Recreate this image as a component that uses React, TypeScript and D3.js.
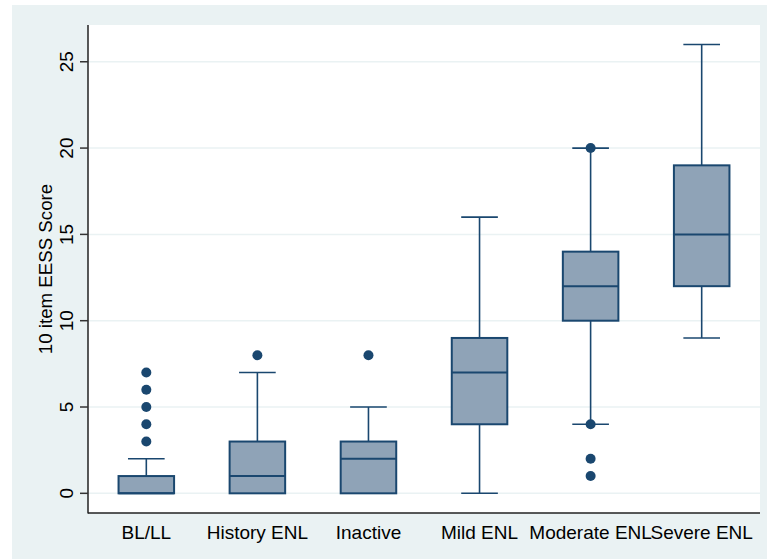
import React, { useEffect, useRef } from "react";
import * as d3 from "d3";

// group labels
const groups = ["BL/LL", "History ENL", "Inactive", "Mild ENL", "Moderate ENL", "Severe ENL"];
// box stats
const lowerWhisker = [0, 0, 0, 0, 4, 9];
const q1 = [0, 0, 0, 4, 10, 12];
const median = [0, 1, 2, 7, 12, 15];
const q3 = [1, 3, 3, 9, 14, 19];
const upperWhisker = [2, 7, 5, 16, 20, 26];
const outliers = [[3, 4, 5, 6, 7], [8], [8], [], [20, 4, 2, 1], []];
const yTicks = [0, 5, 10, 15, 20, 25];

export default function App() {
  const svgRef = useRef<SVGSVGElement>(null);

  useEffect(() => {
    const width = 767;
    const height = 559;
    const plot = { left: 88, right: 760, top: 25, bottom: 513 };
    const navy = "#1a476f";
    const font = "'Liberation Sans', Arial, sans-serif";

    const svg = d3.select(svgRef.current);
    svg.selectAll("*").remove();
    svg.attr("width", width).attr("height", height);

    svg.append("rect").attr("x", 12).attr("y", 5).attr("width", width - 12).attr("height", height - 5).attr("fill", "#eaf2f3");
    svg
      .append("rect")
      .attr("x", plot.left)
      .attr("y", plot.top)
      .attr("width", plot.right - plot.left)
      .attr("height", plot.bottom - plot.top)
      .attr("fill", "white");

    const y = d3.scaleLinear().domain([-1.14, 27.13]).range([plot.bottom, plot.top]);
    const x = d3
      .scaleBand()
      .domain(groups)
      .range([plot.left, plot.right])
      .paddingInner(0.5)
      .paddingOuter(0.275);

    // grid
    svg
      .append("g")
      .selectAll("line")
      .data(yTicks)
      .join("line")
      .attr("x1", plot.left)
      .attr("x2", plot.right)
      .attr("y1", (d) => y(d))
      .attr("y2", (d) => y(d))
      .attr("stroke", "#eaf2f3")
      .attr("stroke-width", 1.5);

    // boxes
    const bw = x.bandwidth();
    const capW = bw * 0.66;
    groups.forEach((g, i) => {
      const cx = x(g)! + bw / 2;
      const gg = svg.append("g");
      gg.append("line")
        .attr("x1", cx).attr("x2", cx)
        .attr("y1", y(upperWhisker[i])).attr("y2", y(q3[i]))
        .attr("stroke", navy).attr("stroke-width", 1.6);
      gg.append("line")
        .attr("x1", cx).attr("x2", cx)
        .attr("y1", y(lowerWhisker[i])).attr("y2", y(q1[i]))
        .attr("stroke", navy).attr("stroke-width", 1.6);
      [upperWhisker[i], lowerWhisker[i]].forEach((v) => {
        gg.append("line")
          .attr("x1", cx - capW / 2).attr("x2", cx + capW / 2)
          .attr("y1", y(v)).attr("y2", y(v))
          .attr("stroke", navy).attr("stroke-width", 1.6);
      });
      gg.append("rect")
        .attr("x", x(g)!)
        .attr("width", bw)
        .attr("y", y(q3[i]))
        .attr("height", y(q1[i]) - y(q3[i]))
        .attr("fill", "#8fa3b7")
        .attr("stroke", navy)
        .attr("stroke-width", 2);
      gg.append("line")
        .attr("x1", x(g)!).attr("x2", x(g)! + bw)
        .attr("y1", y(median[i])).attr("y2", y(median[i]))
        .attr("stroke", navy).attr("stroke-width", 2);
      gg.selectAll("circle")
        .data(outliers[i])
        .join("circle")
        .attr("cx", cx)
        .attr("cy", (d) => y(d))
        .attr("r", 5)
        .attr("fill", navy);
    });

    // axes
    svg.append("line")
      .attr("x1", plot.left).attr("x2", plot.left)
      .attr("y1", plot.top).attr("y2", plot.bottom + 0.5)
      .attr("stroke", "#222").attr("stroke-width", 1.5);
    svg.append("line")
      .attr("x1", plot.left).attr("x2", plot.right)
      .attr("y1", plot.bottom).attr("y2", plot.bottom)
      .attr("stroke", "#222").attr("stroke-width", 1.5);

    const yt = svg.append("g");
    yt.selectAll("line")
      .data(yTicks)
      .join("line")
      .attr("x1", plot.left - 8)
      .attr("x2", plot.left)
      .attr("y1", (d) => y(d))
      .attr("y2", (d) => y(d))
      .attr("stroke", "#333")
      .attr("stroke-width", 1.5);
    yt.selectAll("text")
      .data(yTicks)
      .join("text")
      .text((d) => d)
      .attr("transform", (d) => `translate(73,${y(d)}) rotate(-90)`)
      .attr("text-anchor", "middle")
      .attr("font-family", font)
      .attr("font-size", 19)
      .attr("fill", "black");

    svg.append("text")
      .text("10 item EESS Score")
      .attr("transform", `translate(52,${(plot.top + plot.bottom) / 2}) rotate(-90)`)
      .attr("text-anchor", "middle")
      .attr("font-family", font)
      .attr("font-size", 18.7)
      .attr("fill", "black");

    svg.append("g")
      .selectAll("text")
      .data(groups)
      .join("text")
      .text((d) => d)
      .attr("x", (d) => x(d)! + bw / 2)
      .attr("y", 539)
      .attr("text-anchor", "middle")
      .attr("font-family", font)
      .attr("font-size", 19)
      .attr("fill", "black");
  }, []);

  return (
    <div style={{ position: "absolute", left: 0, top: 0 }}>
      <svg ref={svgRef}></svg>
    </div>
  );
}
